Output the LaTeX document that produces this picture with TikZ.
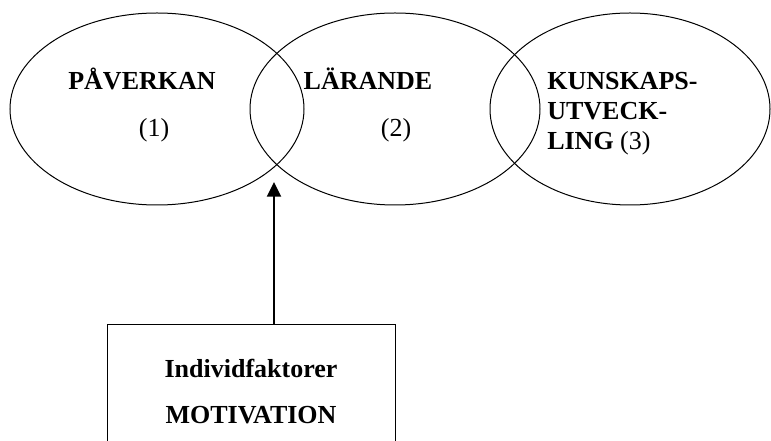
\documentclass[tikz,border=0pt]{standalone}
\usepackage{fontspec}
\setmainfont{Liberation Serif}
\usetikzlibrary{arrows.meta, shapes.geometric}
\tikzstyle{oval} = [draw, ellipse, line width=0.75pt, inner sep=0,
    minimum height=144pt]
\tikzstyle{rubrik} = [inner sep=0, anchor=base,
    font=\fontsize{19.5}{22.5}\selectfont\bfseries]
\tikzstyle{siffra} = [inner sep=0, anchor=base,
    font=\fontsize{19.5}{22.5}\selectfont]
\tikzstyle{faktor} = [draw, line width=0.75pt, inner sep=0,
    minimum width=216pt, minimum height=100.5pt, align=center,
    font=\fontsize{19.5}{34.5}\selectfont\bfseries]

\begin{document}
\begin{tikzpicture}[x=0.75pt, y=-0.75pt]

    \path[use as bounding box, clip] (0,0) rectangle (771,441);

%%% THE THREE STEPS
% Ovals, drawn as outlines only
\node[oval, minimum width=220.5pt] (paverkan) at (157,109) {};
\node[oval, minimum width=217.5pt] (larande) at (395,109) {};
\node[oval, minimum width=210pt] (kunskap) at (630,109) {};

\node[rubrik] (t1) at (142,90) {PÅVERKAN};
\node[siffra] (n1) at (154,137) {(1)};

\node[rubrik] (t2) at (368,90) {LÄRANDE};
\node[siffra] (n2) at (396,137) {(2)};

% base of a multi-line node sits on its last line
\node[rubrik, anchor=base west, align=left] (t3) at (547,150)
    {KUNSKAPS-\\UTVECK-\\LING \mdseries(3)};

%%% INDIVIDUAL FACTORS
% Box runs off the bottom edge
\node[faktor] (motiv) at (251,392) {Individfaktorer\\MOTIVATION};

\coordinate (tip) at (274,182);
\draw[-{Triangle[length=11pt, width=10.5pt]}, line width=1.5pt] (motiv.north -| tip) -- (tip);

\end{tikzpicture}
\end{document}
